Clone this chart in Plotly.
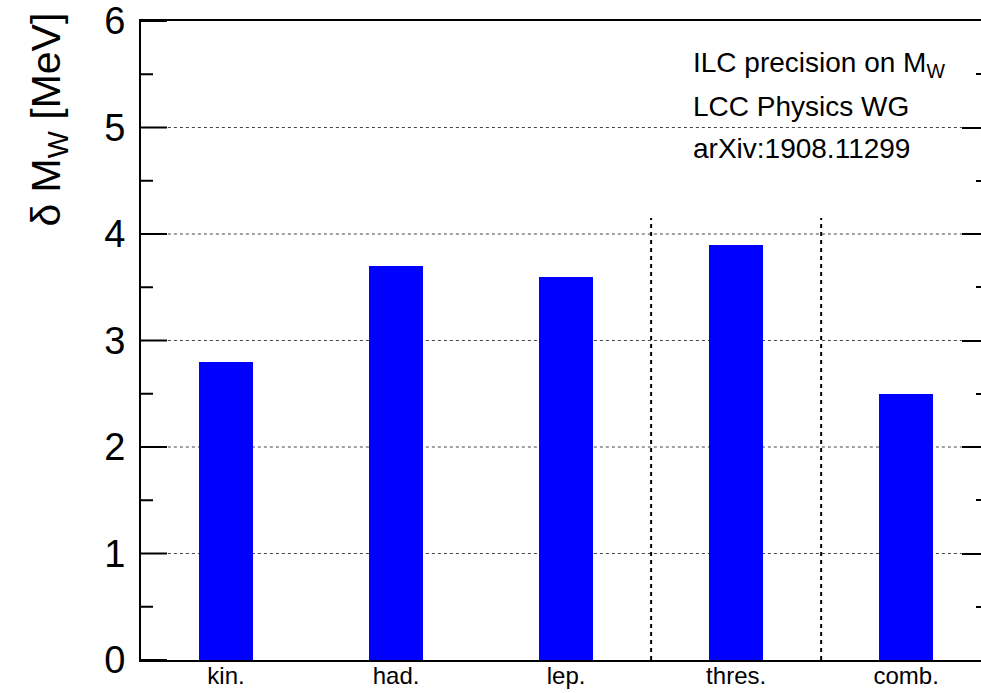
import plotly.graph_objects as go

categories = ["kin.", "had.", "lep.", "thres.", "comb."]
delta_mw = [2.8, 3.7, 3.6, 3.9, 2.5]
y_major = [0, 1, 2, 3, 4, 5, 6]
y_minor = [0.5, 1.5, 2.5, 3.5, 4.5, 5.5]
y_grid = [1, 2, 3, 4, 5]
separators = [2.5, 3.5]
separator_top = 4.15
info_lines = ["ILC precision on M<sub>W</sub>", "LCC Physics WG", "arXiv:1908.11299"]
info_y = [0.932, 0.866, 0.801]

FONT = "Liberation Sans, Arial, Helvetica, sans-serif"

fig = go.Figure()
fig.add_trace(go.Bar(
    x=categories, y=delta_mw, width=0.32,
    marker=dict(color="#0000ff", line=dict(width=0)),
    showlegend=False,
))

# dotted grid lines between the left and right major ticks
for g in y_grid:
    fig.add_shape(type="line", xref="paper", yref="y", x0=0.032, x1=0.977, y0=g, y1=g, layer="below",
                  line=dict(color="#444444", width=1, dash="dot"))

# left-side axis ticks (ROOT style, pointing into the frame)
for v in y_major:
    fig.add_shape(type="line", xref="paper", xsizemode="pixel", xanchor=0, x0=0, x1=26,
                  yref="y", y0=v, y1=v, layer="above", line=dict(color="black", width=2))
for v in y_minor:
    fig.add_shape(type="line", xref="paper", xsizemode="pixel", xanchor=0, x0=0, x1=12,
                  yref="y", y0=v, y1=v, layer="above", line=dict(color="black", width=2))

for s in separators:
    fig.add_shape(type="line", xref="x", yref="y", x0=s, x1=s, y0=0, y1=separator_top,
                  line=dict(color="black", width=2, dash="4px,4px"))

for t, yy in zip(info_lines, info_y):
    fig.add_annotation(text=t, xref="paper", yref="paper", x=0.655, y=yy,
                       xanchor="left", yanchor="middle", showarrow=False,
                       font=dict(family=FONT, size=28, color="black"))

fig.add_annotation(text="δ M<sub>W</sub> [MeV]", textangle=-90, xref="paper", yref="paper",
                   x=-0.110, y=1.0, yshift=10, xanchor="center", yanchor="top", showarrow=False,
                   font=dict(family=FONT, size=41, color="black"))


def tick_axis(side, step, length):
    return dict(
        overlaying="y", side=side, range=[0, 6], dtick=step, tick0=0,
        showline=False, showgrid=False, zeroline=False, showticklabels=False,
        ticks="inside", ticklen=length, tickwidth=2, tickcolor="black", automargin=False,
    )


fig.update_layout(
    width=981, height=693,
    margin=dict(l=141, r=0, t=21, b=33),
    plot_bgcolor="white", paper_bgcolor="white",
    font=dict(family=FONT, color="black"),
    bargap=0,
    xaxis=dict(
        type="category", range=[-0.5, 4.44], automargin=False,
        showline=True, linecolor="black", linewidth=2, mirror=True,
        ticks="", showgrid=False, zeroline=False,
        tickfont=dict(family=FONT, size=24, color="black"),
        ticklabelstandoff=-7,
    ),
    yaxis=dict(
        range=[0, 6], dtick=1, tick0=0, automargin=False,
        showline=True, linecolor="black", linewidth=2,
        ticks="", showgrid=False, zeroline=False,
        tickfont=dict(family=FONT, size=38, color="black"),
        ticklabelstandoff=6,
    ),
    yaxis2=tick_axis("right", 0.5, 5),
    yaxis4=tick_axis("right", 1, 19),
)
for ax in ["y2", "y4"]:
    fig.add_trace(go.Scatter(x=[categories[0]], y=[0], yaxis=ax, mode="markers",
                             marker=dict(opacity=0), showlegend=False, hoverinfo="skip"))

fig.write_html("out.html")
